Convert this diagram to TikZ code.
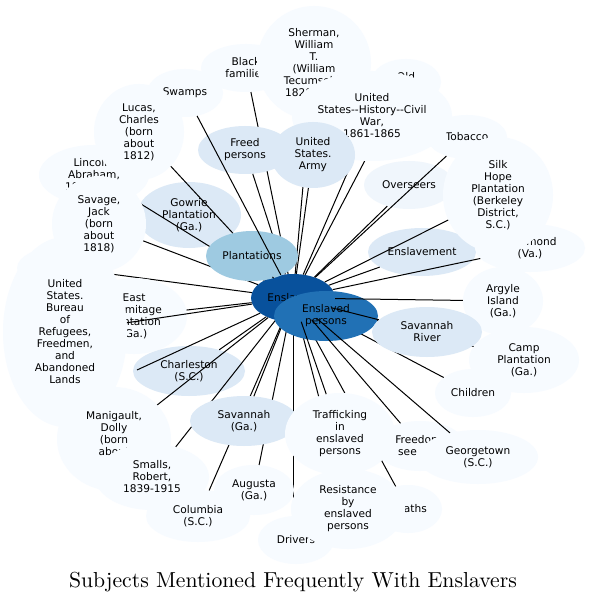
\documentclass[tikz,border=0pt]{standalone}
\usepackage{fontspec}
\usetikzlibrary{shapes.geometric}
\newfontfamily\lbl{DejaVu Sans}
\definecolor{c0}{HTML}{F7FBFF}
\definecolor{cov}{HTML}{F0F6FC}
\definecolor{c1}{HTML}{DCE9F6}
\definecolor{c2}{HTML}{9ECAE1}
\definecolor{c3}{HTML}{2171B5}
\definecolor{c4}{HTML}{08519C}
\tikzset{
  nd/.style={ellipse, draw=none, inner sep=0pt, align=center, text=black,
    font={\lbl\fontsize{10.6}{12}\selectfont}},
  edge/.style={draw=black, line width=1pt}
}
\newcommand\nd[7]{\node[nd, fill=#6, minimum width={2*#4pt}, minimum height={2*#5pt}] (#1) at (#2,#3) {#7};}
\newcommand\ed[1]{\draw[edge] (ensl) -- (#1);}
\begin{document}
\begin{tikzpicture}[x=1pt,y=-1pt]
\useasboundingbox (0,0) rectangle (589,601);
\fill[white] (0,0) rectangle (589,601);
\nd{ensl}{293}{298}{42}{24}{c4}{Enslavers}
\nd{gowrie}{189}{215}{52}{33}{c1}{Gowrie\\Plantation\\(Ga.)} \ed{gowrie}
\nd{overs}{409}{185}{45}{24}{cov}{Overseers} \ed{overs}
\nd{enslm}{422}{252}{54}{24}{c1}{Enslavement} \ed{enslm}
\nd{black}{246}{68}{45}{24}{c0}{Black\\families} \ed{black}
\nd{sherman}{314}{63}{57}{57}{c0}{Sherman,\\William\\T.\\(William\\Tecumseh),\\1820-1891} \ed{sherman}
\nd{old}{406}{82}{35}{23}{c0}{Old\\\mbox{}} \ed{old}
\nd{tob}{467}{137}{40}{22}{c0}{Tobacco} \ed{tob}
\nd{ushist}{372}{116}{80}{45}{c0}{United\\States{-}{-}History{-}{-}Civil\\War,\\1861-1865} \ed{ushist}
\nd{freed}{245}{150}{47}{24}{c1}{Freed\\persons} \ed{freed}
\nd{army}{313}{155}{42}{33}{c1}{United\\States.\\Army} \ed{army}
\nd{swamps}{185}{93}{38}{24}{c0}{Swamps}
\nd{lincoln}{94}{175}{55}{30}{c0}{Lincoln,\\Abraham,\\1809-1865} \ed{lincoln}
\nd{lucas}{139}{132}{45}{48}{c0}{Lucas,\\Charles\\(born\\about\\1812)} \ed{lucas}
\nd{hid}{65}{268}{48}{22}{c0}{} \ed{hid}
\nd{hermit}{134}{316}{53}{38}{c0}{East\\Hermitage\\Plantation\\(Ga.)} \ed{hermit}
\nd{bureau}{65}{332}{62}{95}{c0}{United\\States.\\Bureau\\of\\Refugees,\\Freedmen,\\and\\Abandoned\\Lands} \ed{bureau}
\nd{savage}{99}{224}{47}{48}{c0}{Savage,\\Jack\\(born\\about\\1818)} \ed{savage}
\nd{plant}{252}{256}{46}{25}{c2}{Plantations} \ed{plant}
\ed{swamps}
\nd{charl}{189}{371}{56}{25}{c1}{Charleston\\(S.C.)} \ed{charl}
\coordinate (xb) at (137,370);
\draw[edge] (ensl) -- (xb);
\nd{manig}{114}{439}{57}{52}{c0}{Manigault,\\Dolly\\(born\\about\\1} \ed{manig}
\nd{smalls}{152}{477}{57}{33}{c0}{Smalls,\\Robert,\\1839-1915} \ed{smalls}
\nd{colum}{198}{516}{52}{26}{c0}{Columbia\\(S.C.)} \ed{colum}
\nd{drivers}{296}{540}{38}{24}{c0}{Drivers}
\draw[edge] (ensl.south) -- (ensl.south |- drivers.north);
\nd{augusta}{254}{490}{40}{25}{c0}{Augusta\\(Ga.)} \ed{augusta}
\nd{savga}{244}{421}{54}{25}{c1}{Savannah\\(Ga.)} \ed{savga}
\nd{deaths}{408}{509}{34}{24}{c0}{Deaths} \ed{deaths}
\nd{child}{473}{393}{38}{24}{c0}{Children} \ed{child}
\nd{camp}{524}{360}{55}{33}{c0}{Camp\\Plantation\\(Ga.)} \ed{camp}
\nd{resist}{348}{509}{57}{40}{c0}{Resistance\\by\\enslaved\\persons} \ed{resist}
\nd{enslp}{326}{316}{52}{25}{c3}{Enslaved\\persons}
\nd{traff}{340}{434}{55}{41}{c0}{Trafficking\\in\\enslaved\\persons} \ed{traff}
\nd{freedom}{420}{446}{45}{25}{c0}{Freedom,\\see\hspace*{25pt}} \ed{freedom}
\nd{george}{478}{457}{60}{27}{c0}{Georgetown\\(S.C.)} \ed{george}
\nd{argyle}{503}{301}{40}{34}{c0}{Argyle\\Island\\(Ga.)} \ed{argyle}
\nd{savriv}{427}{332}{55}{25}{c1}{Savannah\\River} \ed{savriv}
\nd{rich}{530}{248}{55}{24}{c0}{Richmond\\(Va.)} \ed{rich}
\nd{silk}{498}{195}{55}{58}{c0}{Silk\\Hope\\Plantation\\(Berkeley\\District,\\S.C.)} \ed{silk}
\node[anchor=base, inner sep=0pt] (title) at (293,587) {\scalebox{2.17}{\fontsize{10}{12}\selectfont Subjects Mentioned Frequently With Enslavers}};
\end{tikzpicture}
\end{document}
